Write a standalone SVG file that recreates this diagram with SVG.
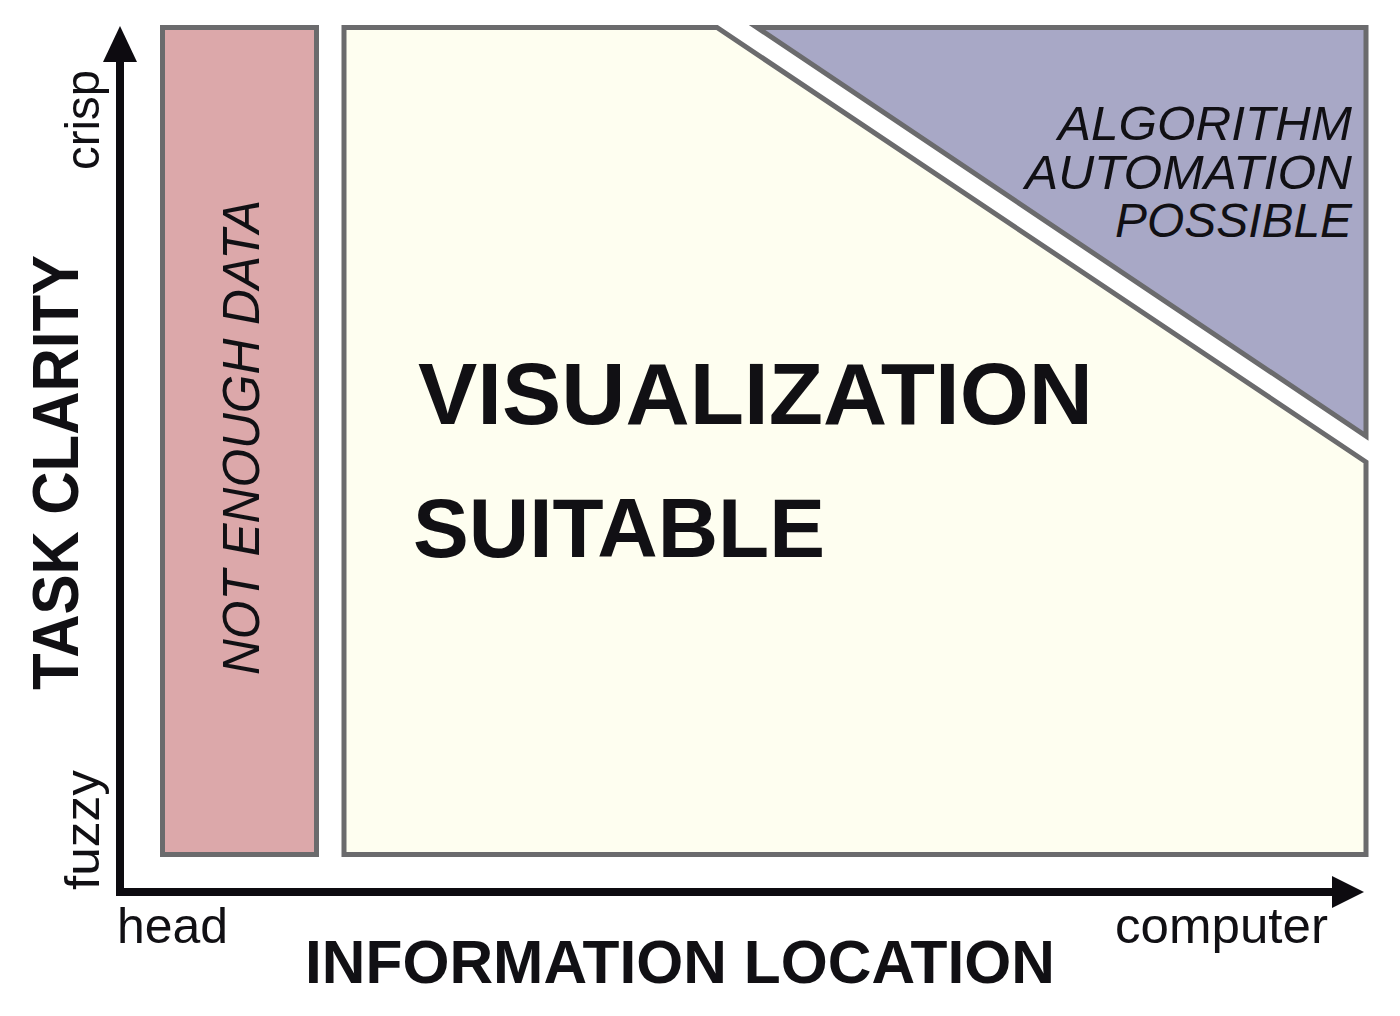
<svg xmlns="http://www.w3.org/2000/svg" width="1400" height="1016" viewBox="0 0 1400 1016">
  <style>
    .region { stroke: #6b6b6d; stroke-width: 5; stroke-linejoin: miter; }
    .lbl { font-family: "Liberation Sans", Arial, Helvetica, sans-serif; fill: #111014; }
    .big { font-weight: bold; }
    .ital { font-style: italic; }
    .axis { stroke: #0d0b10; stroke-width: 8; fill: none; }
    .head { fill: #0d0b10; }
  </style>

  <rect width="1400" height="1016" fill="#ffffff"/>

  <!-- Region: not enough data -->
  <g id="not-enough-data">
    <rect class="region" x="162.5" y="27.5" width="154" height="827" fill="#dca8aa"/>
    <text class="lbl ital" font-size="52" textLength="475" lengthAdjust="spacingAndGlyphs" transform="translate(259 675) rotate(-90)">NOT ENOUGH DATA</text>
  </g>

  <!-- Region: visualization suitable -->
  <g id="visualization-suitable">
    <polygon class="region" points="344,27.5 717,27.5 1366,462 1366,854.5 344,854.5" fill="#fefef0"/>
    <text class="lbl big" x="418" y="424" font-size="87" textLength="675" lengthAdjust="spacingAndGlyphs">VISUALIZATION</text>
    <text class="lbl big" x="413" y="557" font-size="84" textLength="412" lengthAdjust="spacingAndGlyphs">SUITABLE</text>
  </g>

  <!-- Region: algorithm automation possible -->
  <g id="algorithm-automation">
    <polygon class="region" points="757,27.5 1366,27.5 1366,436" fill="#a8a8c6"/>
    <text class="lbl ital" x="1058" y="140" font-size="48" textLength="294" lengthAdjust="spacingAndGlyphs">ALGORITHM</text>
    <text class="lbl ital" x="1025" y="189" font-size="48" textLength="327" lengthAdjust="spacingAndGlyphs">AUTOMATION</text>
    <text class="lbl ital" x="1115" y="237" font-size="48" textLength="237" lengthAdjust="spacingAndGlyphs">POSSIBLE</text>
  </g>

  <!-- Axes -->
  <g id="axes">
    <line class="axis" x1="120" y1="58" x2="120" y2="896"/>
    <polygon class="head" points="120,26 103,62 137,62"/>
    <line class="axis" x1="116" y1="892" x2="1336" y2="892"/>
    <polygon class="head" points="1364,892 1332,876 1332,908"/>
  </g>

  <!-- Axis labels -->
  <g id="y-axis-labels">
    <text class="lbl" font-size="49" textLength="100" lengthAdjust="spacingAndGlyphs" transform="translate(99 170) rotate(-90)">crisp</text>
    <text class="lbl" font-size="49" textLength="120" lengthAdjust="spacingAndGlyphs" transform="translate(99 890) rotate(-90)">fuzzy</text>
    <text class="lbl big" font-size="64" textLength="435" lengthAdjust="spacingAndGlyphs" transform="translate(78 690) rotate(-90)">TASK CLARITY</text>
  </g>
  <g id="x-axis-labels">
    <text class="lbl" x="117" y="943" font-size="50" textLength="111" lengthAdjust="spacingAndGlyphs">head</text>
    <text class="lbl" x="1115" y="943" font-size="50" textLength="213" lengthAdjust="spacingAndGlyphs">computer</text>
    <text class="lbl big" x="305" y="983" font-size="62" textLength="750" lengthAdjust="spacingAndGlyphs">INFORMATION LOCATION</text>
  </g>
</svg>
